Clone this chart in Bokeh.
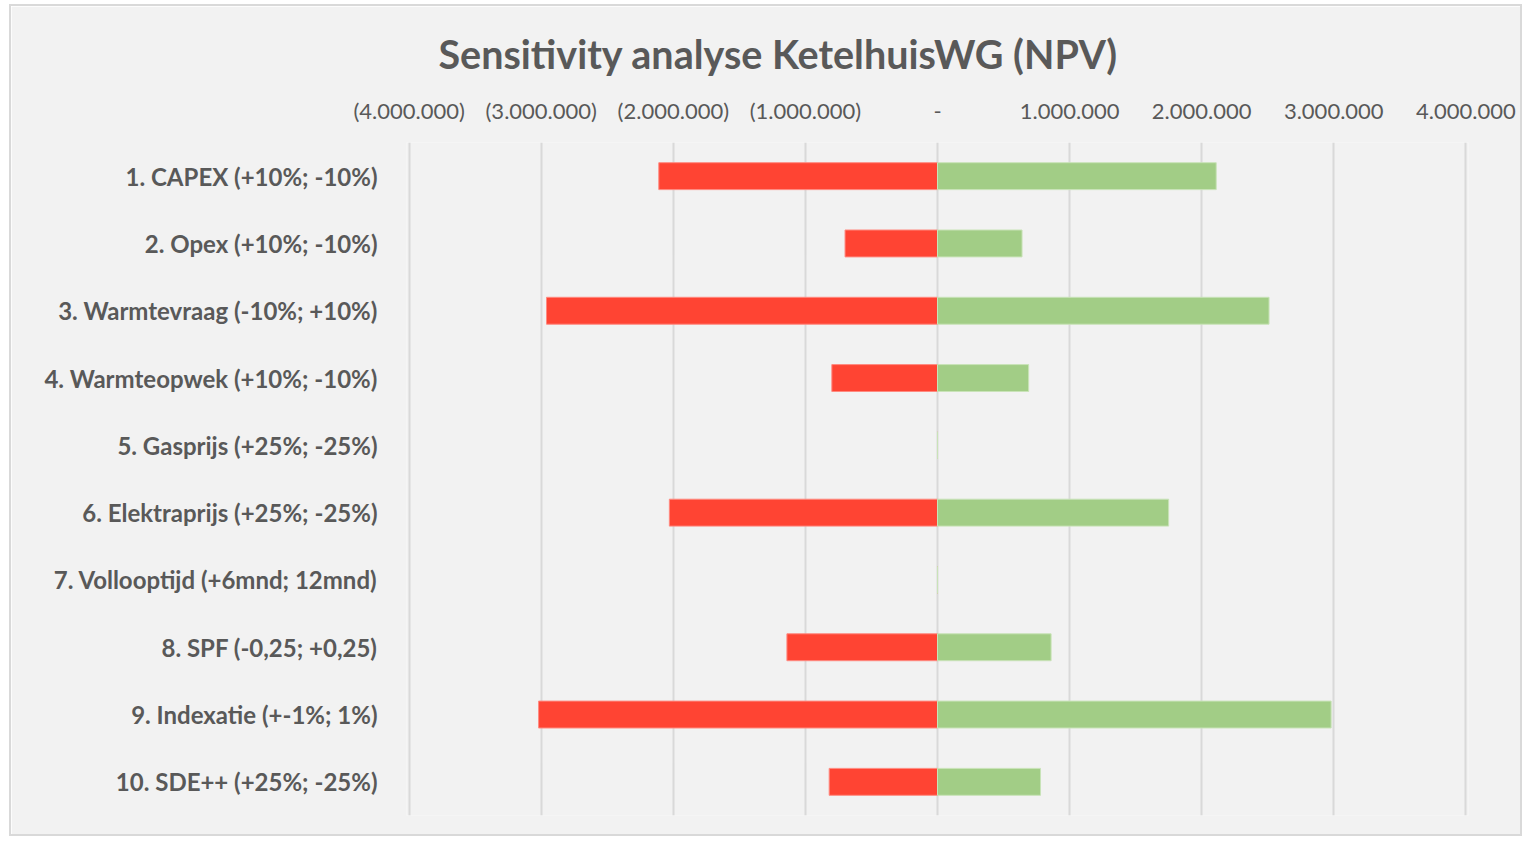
from bokeh.plotting import figure
from bokeh.models import Range1d, FixedTicker
from bokeh.embed import file_html
from bokeh.resources import INLINE

categories = [
    "1. CAPEX (+10%; -10%)",
    "2. Opex (+10%; -10%)",
    "3. Warmtevraag (-10%; +10%)",
    "4. Warmteopwek (+10%; -10%)",
    "5. Gasprijs (+25%; -25%)",
    "6. Elektraprijs (+25%; -25%)",
    "7. Vollooptijd (+6mnd; 12mnd)",
    "8. SPF (-0,25; +0,25)",
    "9. Indexatie (+-1%; 1%)",
    "10. SDE++ (+25%; -25%)",
]
low_values = [-2110000, -700000, -2960000, -800000, 0, -2030000, 0, -1140000, -3020000, -820000]
high_values = [2110000, 640000, 2510000, 690000, 0, 1750000, 0, 860000, 2980000, 780000]
x_ticks = [-4000000, -3000000, -2000000, -1000000, 0, 1000000, 2000000, 3000000, 4000000]
x_tick_labels = ["(4.000.000)", "(3.000.000)", "(2.000.000)", "(1.000.000)", "-",
                 "1.000.000", "2.000.000", "3.000.000", "4.000.000"]
title_text = "Sensitivity analyse KetelhuisWG (NPV)"

FONT = "Lato"
BG = "#f2f2f2"
TXT = "#595959"

ypos = [i + 0.5 for i in range(len(categories))]

p = figure(width=1513, height=832, output_backend="svg", toolbar_location=None,
           x_range=Range1d(-4020000, 4020000), y_range=Range1d(10, 0),
           x_axis_location="above",
           min_border_left=395, min_border_right=56, min_border_top=136, min_border_bottom=23)
p.background_fill_color = BG
p.border_fill_color = BG
p.outline_line_color = None
p.styles = {"border": "2px solid #d9d9d9", "margin-left": "9px", "margin-top": "4px"}

p.hbar(y=ypos, left=low_values, right=0, height=0.4, fill_color="#ff4433",
       line_color="#ff8a80", line_width=1)
p.hbar(y=ypos, left=0, right=high_values, height=0.4, fill_color="#a2cd86",
       line_color="#c9e3b8", line_width=1)

# title
p.title.text = title_text
p.title.align = "left"
p.title.offset = 32
p.title.text_font = FONT
p.title.text_font_size = "39.5px"
p.title.text_font_style = "bold"
p.title.text_color = TXT
p.title.standoff = 33

# x axis
p.xaxis.ticker = FixedTicker(ticks=x_ticks)
p.xaxis.major_label_overrides = {t: l for t, l in zip(x_ticks, x_tick_labels)}
p.xaxis.major_label_text_font = FONT
p.xaxis.major_label_text_font_size = "22px"
p.xaxis.major_label_text_color = TXT
p.xaxis.major_label_standoff = 13
p.xaxis.axis_line_color = None
p.xaxis.major_tick_line_color = None
p.xaxis.minor_tick_line_color = None

# y axis
p.yaxis.ticker = FixedTicker(ticks=ypos)
p.yaxis.major_label_overrides = {y: c for y, c in zip(ypos, categories)}
p.yaxis.major_label_text_font = FONT
p.yaxis.major_label_text_font_size = "24px"
p.yaxis.major_label_text_font_style = "bold"
p.yaxis.major_label_text_color = TXT
p.yaxis.major_label_standoff = 23
p.yaxis.axis_line_color = None
p.yaxis.major_tick_line_color = None
p.yaxis.minor_tick_line_color = None

p.xgrid.grid_line_color = "#d9d9d9"
p.xgrid.grid_line_width = 2
p.ygrid.grid_line_color = None

open("out.html", "w").write(file_html(p, INLINE))
